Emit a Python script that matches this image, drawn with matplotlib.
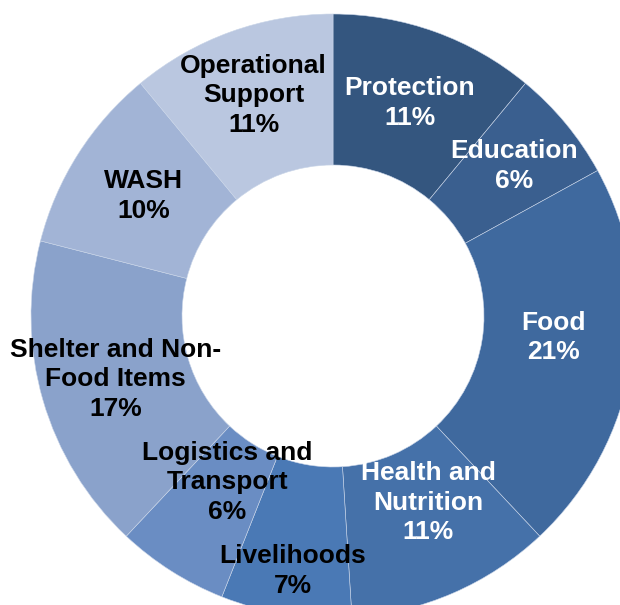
import matplotlib.pyplot as plt
import numpy as np

plt.rcParams['font.family'] = ['Liberation Sans', 'DejaVu Sans']

sectors = ['Protection', 'Education', 'Food', 'Health and\nNutrition', 'Livelihoods',
           'Logistics and\nTransport', 'Shelter and Non-\nFood Items', 'WASH',
           'Operational\nSupport']
shares = [11, 6, 21, 11, 7, 6, 17, 10, 11]
colors = ['#34567f', '#3a5f8f', '#3f699e', '#4571a9', '#4a79b5',
          '#6a8dc3', '#8aa2cb', '#a2b4d6', '#bac7e0']
text_colors = ['white', 'white', 'white', 'white', 'black',
               'black', 'black', 'black', 'black']
# radial / angular nudges for the label placement
label_r = [1.0, 1.04, 0.98, 0.925, 1.14, 0.87, 1.0, 0.99, 1.035]
label_da = [0, 0, 3.5, 3.6, 0, 0, 0, 0, 0]

fig = plt.figure(figsize=(6.2, 6.05), dpi=100)
ax = fig.add_axes([0, 0, 1, 1])

cx, cy = 333, 289
R = 302
ring = 151

wedges, _ = ax.pie(shares, colors=colors, startangle=90, counterclock=False,
                   center=(cx, cy), radius=R,
                   wedgeprops=dict(width=ring, edgecolor='#c9d5e8', linewidth=0.4))

mid = R - ring / 2
for w, name, v, tc, f, da in zip(wedges, sectors, shares, text_colors, label_r, label_da):
    ang = np.deg2rad((w.theta1 + w.theta2) / 2 + da)
    x = cx + mid * f * np.cos(ang)
    y = cy + mid * f * np.sin(ang)
    ax.text(x, y, f'{name}\n{v}%', ha='center', va='center', color=tc,
            fontsize=19, fontweight='bold', linespacing=1.28)

ax.set_xlim(0, 620)
ax.set_ylim(0, 605)
ax.set_aspect('equal')
ax.axis('off')

fig.savefig('out.png', dpi=100)
